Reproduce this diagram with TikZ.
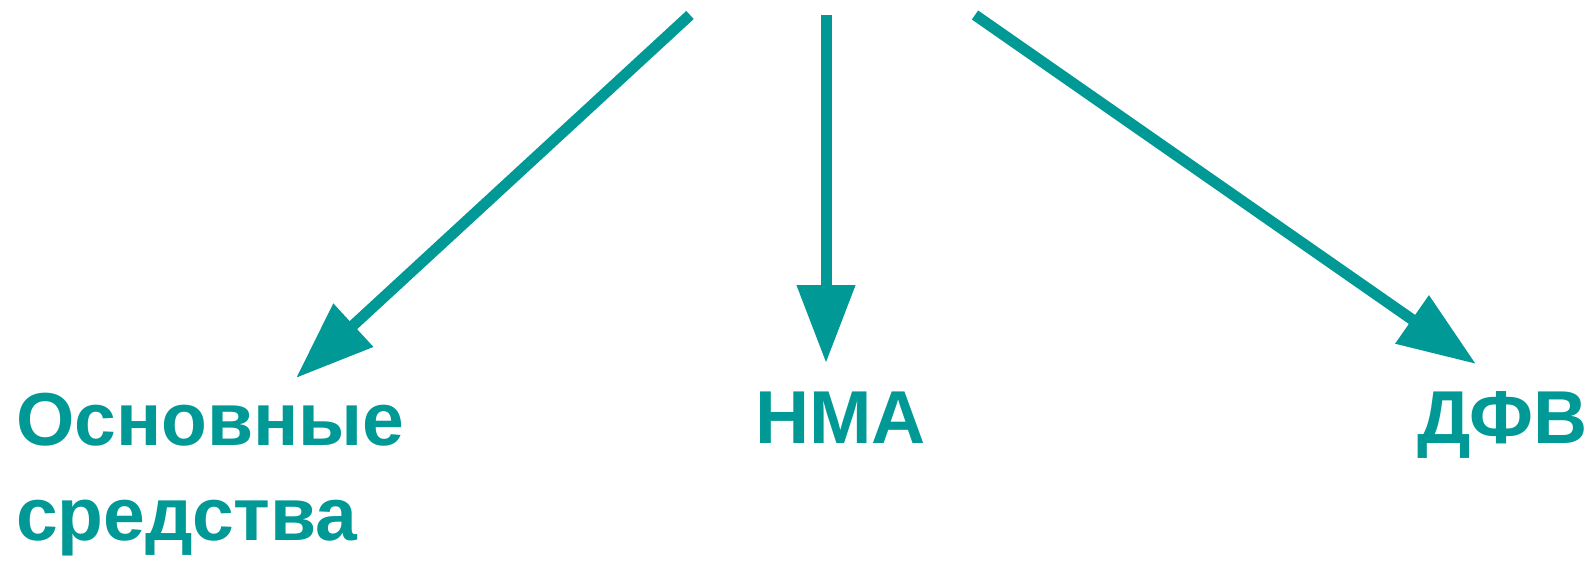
\documentclass[tikz,border=0pt]{standalone}
\usepackage{fontspec}
\setmainfont{Liberation Sans}
\usetikzlibrary{arrows.meta}
\definecolor{assetTeal}{RGB}{0,153,150}

\begin{document}
\begin{tikzpicture}[x=1pt, y=-1pt,
  grouplabel/.style={text=assetTeal, inner sep=0pt, align=left,
    font=\bfseries\fontsize{75}{95}\selectfont},
  branch/.style={assetTeal, line width=11pt,
    -{Triangle[length=78pt, width=56pt]}}]

  \useasboundingbox (0,0) rectangle (1590,560);

  % labels of the three groups
  \node[grouplabel, anchor=base west] (fixed) at (16,540) {Основные\\средства};
  \node[grouplabel, anchor=base west] (nma) at (755,443) {НМА};
  \node[grouplabel, anchor=base west] (dfv) at (1417,443) {ДФВ};

  % ends of the arrows
  \coordinate (topL) at (690,15);
  \coordinate (topM) at (826,15);
  \coordinate (topR) at (975,15);
  \coordinate (tipL) at (296,378);
  \coordinate (tipM) at (826,363);
  \coordinate (tipR) at (1476,364);

  % arrows
  \draw[branch] (topL) -- (tipL);
  \draw[branch] (topM) -- (tipM);
  \draw[branch] (topR) -- (tipR);

\end{tikzpicture}
\end{document}
